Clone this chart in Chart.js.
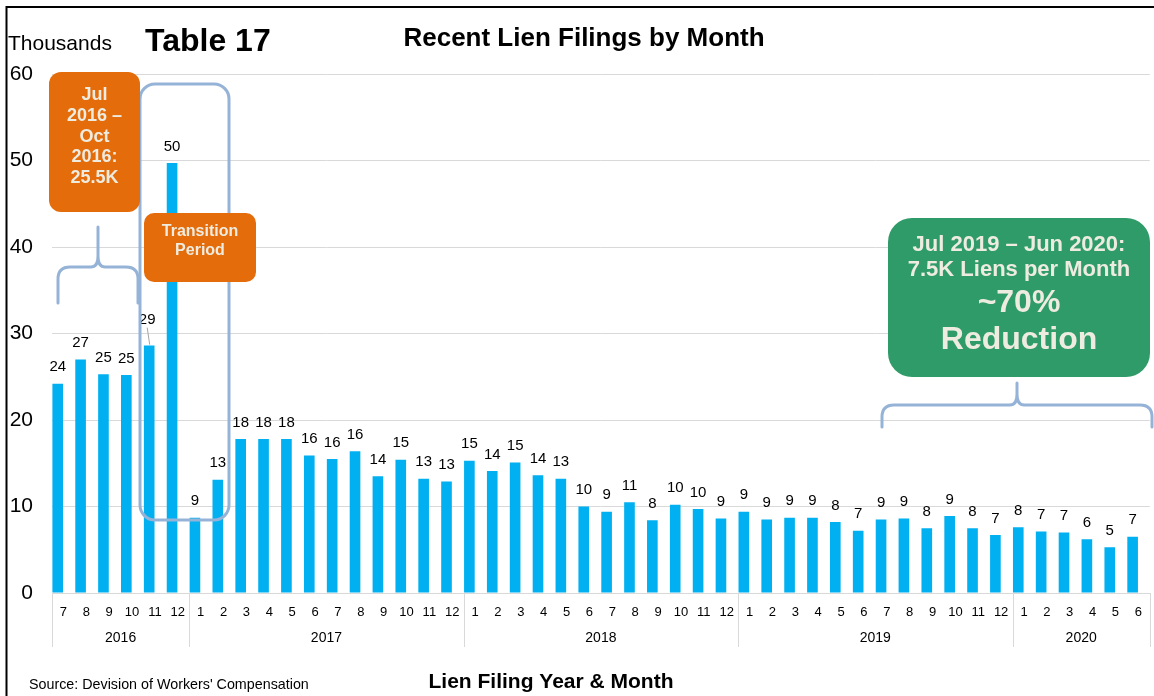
<!DOCTYPE html>
<html>
<head>
<meta charset="utf-8">
<script src="https://cdn.jsdelivr.net/npm/chart.js@4/dist/chart.umd.min.js"></script>
<style>
html,body{margin:0;padding:0;background:#fff;}
#wrap{position:relative;width:1154px;height:696px;}
</style>
</head>
<body>
<div id="wrap"><canvas id="c" width="1154" height="696"></canvas></div>
<script>
// ---- data ----
const months = ['7','8','9','10','11','12',
  '1','2','3','4','5','6','7','8','9','10','11','12',
  '1','2','3','4','5','6','7','8','9','10','11','12',
  '1','2','3','4','5','6','7','8','9','10','11','12',
  '1','2','3','4','5','6'];
const years = ['2016','2017','2018','2019','2020'];
const yearCounts = [6, 12, 12, 12, 6];
// lien filings, thousands
const liens = [24.2, 27.0, 25.3, 25.2, 28.6, 49.7,
  8.7, 13.1, 17.8, 17.8, 17.8, 15.9, 15.5, 16.4, 13.5, 15.4, 13.2, 12.9,
  15.3, 14.1, 15.1, 13.6, 13.2, 10.0, 9.4, 10.5, 8.4, 10.2, 9.7, 8.6,
  9.4, 8.5, 8.7, 8.7, 8.2, 7.2, 8.5, 8.6, 7.5, 8.9, 7.5, 6.7,
  7.6, 7.1, 7.0, 6.2, 5.3, 6.5];
const valueLabels = ['24','27','25','25','29','50',
  '9','13','18','18','18','16','16','16','14','15','13','13',
  '15','14','15','14','13','10','9','11','8','10','10','9',
  '9','9','9','9','8','7','9','9','8','9','8','7',
  '8','7','7','6','5','7'];
const yTickValues = [0, 10, 20, 30, 40, 50, 60];

const FONT = '"Liberation Sans", Arial, sans-serif';
Chart.defaults.font.family = FONT;

function brace(ctx, x1, x2, yBar, yTip, yEnd, tipX, r) {
  ctx.beginPath();
  ctx.moveTo(x1, yEnd);
  ctx.lineTo(x1, yBar + r);
  ctx.quadraticCurveTo(x1, yBar, x1 + r, yBar);
  ctx.lineTo(tipX - r * 0.6, yBar);
  ctx.quadraticCurveTo(tipX, yBar, tipX, yBar - r * 0.9);
  ctx.lineTo(tipX, yTip);
  ctx.moveTo(tipX, yBar - r * 0.9);
  ctx.quadraticCurveTo(tipX, yBar, tipX + r * 0.6, yBar);
  ctx.lineTo(x2 - r, yBar);
  ctx.quadraticCurveTo(x2, yBar, x2, yBar + r);
  ctx.lineTo(x2, yEnd);
  ctx.stroke();
}

function rrect(ctx, x, y, w, h, r) {
  ctx.beginPath();
  ctx.roundRect(x, y, w, h, r);
}

const deco = {
  id: 'deco',
  afterDraw(chart) {
    const ctx = chart.ctx, xs = chart.scales.x, ca = chart.chartArea;
    ctx.save();

    // frame
    ctx.strokeStyle = '#000';
    ctx.lineWidth = 2;
    ctx.beginPath();
    ctx.moveTo(6.5, 696); ctx.lineTo(6.5, 7); ctx.lineTo(1154, 7);
    ctx.stroke();

    // year separators & labels
    const n = months.length;
    const cw = (xs.right - xs.left) / n;
    const bounds = [0];
    let acc = 0;
    yearCounts.forEach(c => { acc += c; bounds.push(acc); });
    ctx.strokeStyle = '#d9d9d9';
    ctx.lineWidth = 1;
    bounds.forEach(b => {
      const px = Math.round(xs.left + b * cw) + 0.5;
      ctx.beginPath();
      ctx.moveTo(px, ca.bottom);
      ctx.lineTo(px, ca.bottom + 54);
      ctx.stroke();
    });
    ctx.fillStyle = '#000';
    ctx.font = '14px ' + FONT;
    ctx.textAlign = 'center';
    ctx.textBaseline = 'middle';
    years.forEach((yr, i) => {
      const cx = xs.left + (bounds[i] + bounds[i + 1]) / 2 * cw;
      ctx.fillText(yr, cx, ca.bottom + 45);
    });

    // value labels
    const meta = chart.getDatasetMeta(0);
    ctx.font = '15px ' + FONT;
    meta.data.forEach((bar, i) => {
      let lx = bar.x, ly = bar.y - 16.5;
      if (i === 4) {
        lx = bar.x - 2; ly = bar.y - 26;
        ctx.strokeStyle = '#a6a6a6';
        ctx.lineWidth = 1;
        ctx.beginPath();
        ctx.moveTo(bar.x - 2, ly + 8);
        ctx.lineTo(bar.x + 0.5, bar.y - 1);
        ctx.stroke();
      }
      ctx.fillStyle = '#000';
      ctx.fillText(valueLabels[i], lx, ly);
    });

    // header texts
    ctx.textBaseline = 'alphabetic';
    ctx.textAlign = 'left';
    ctx.font = '21px ' + FONT;
    ctx.fillText('Thousands', 8, 50);
    ctx.font = 'bold 32px ' + FONT;
    ctx.fillText('Table 17', 145, 50.5);
    ctx.textAlign = 'center';
    ctx.font = 'bold 26px ' + FONT;
    ctx.fillText('Recent Lien Filings by Month', 584, 46);
    ctx.font = 'bold 21px ' + FONT;
    ctx.fillText('Lien Filing Year & Month', 551, 688);
    ctx.textAlign = 'left';
    ctx.font = '14.3px ' + FONT;
    ctx.fillText("Source: Devision of Workers' Compensation", 29, 689);

    // transition outline
    ctx.strokeStyle = '#95B3D7';
    ctx.lineWidth = 3;
    rrect(ctx, 140, 84, 89, 436, 15);
    ctx.stroke();

    // braces
    ctx.lineWidth = 3;
    ctx.lineCap = 'round';
    brace(ctx, 58, 138, 267, 227, 303, 98, 12);
    brace(ctx, 882, 1152, 405, 383, 427, 1017, 12);

    // orange box 1
    ctx.fillStyle = '#E46C0A';
    rrect(ctx, 49, 72, 91, 140, 12);
    ctx.fill();
    ctx.fillStyle = '#EEECE1';
    ctx.textAlign = 'center';
    ctx.textBaseline = 'middle';
    ctx.font = 'bold 18px ' + FONT;
    ['Jul', '2016 \u2013', 'Oct', '2016:', '25.5K'].forEach((t, i) => {
      ctx.fillText(t, 94.5, 95 + i * 20.8);
    });

    // transition box
    ctx.fillStyle = '#E46C0A';
    rrect(ctx, 144, 213, 112, 69, 10);
    ctx.fill();
    ctx.fillStyle = '#EEECE1';
    ctx.font = 'bold 16px ' + FONT;
    ctx.fillText('Transition', 200, 232);
    ctx.fillText('Period', 200, 250.5);

    // green box
    ctx.fillStyle = '#2F9B69';
    rrect(ctx, 888, 218, 262, 159, 24);
    ctx.fill();
    ctx.fillStyle = '#EEECE1';
    ctx.font = 'bold 22px ' + FONT;
    ctx.fillText('Jul 2019 \u2013 Jun 2020:', 1019, 245);
    ctx.fillText('7.5K Liens per Month', 1019, 270);
    ctx.font = 'bold 32px ' + FONT;
    ctx.fillText('~70%', 1019, 303);
    ctx.fillText('Reduction', 1019, 340);

    ctx.restore();
  }
};

new Chart(document.getElementById('c'), {
  type: 'bar',
  data: {
    labels: months,
    datasets: [
      { data: liens, backgroundColor: '#00B0F0', borderWidth: 0,
        categoryPercentage: 1, barPercentage: 0.93 },
      { data: liens.map(() => null), backgroundColor: 'rgba(0,0,0,0)',
        categoryPercentage: 1, barPercentage: 0.93 }
    ]
  },
  options: {
    responsive: false,
    animation: false,
    devicePixelRatio: 1,
    layout: { padding: { top: 74, right: 4, left: 0, bottom: 0 } },
    plugins: { legend: { display: false }, tooltip: { enabled: false }, title: { display: false } },
    scales: {
      x: {
        grid: { display: false, drawTicks: false },
        border: { display: true, color: '#d9d9d9', width: 1 },
        ticks: { color: '#000', font: { size: 13 }, padding: 12, maxRotation: 0, autoSkip: false },
        afterFit: s => { s.height = 103; }
      },
      y: {
        min: 0, max: 60,
        afterBuildTicks: s => { s.ticks = yTickValues.map(v => ({ value: v })); },
        grid: { color: '#d9d9d9', lineWidth: 1, drawTicks: false },
        border: { display: false },
        ticks: { color: '#000', font: { size: 21 }, padding: 19 },
        afterFit: s => { s.width = 52; }
      }
    }
  },
  plugins: [deco]
});
</script>
</body>
</html>
